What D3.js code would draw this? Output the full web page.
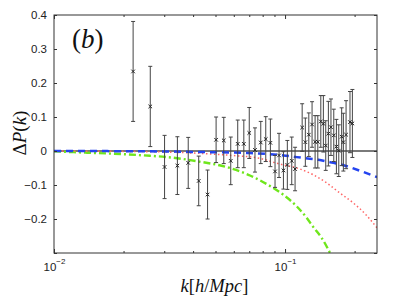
<!DOCTYPE html>
<html>
<head>
<meta charset="utf-8">
<script src="https://cdn.jsdelivr.net/npm/d3@7"></script>
<style>
  body { margin: 0; background: #fff; }
  svg { display: block; }
</style>
</head>
<body>
<div id="chart"></div>
<script>
// measured points: k, delta P, error
const pointK = [0.0220, 0.0261, 0.0301, 0.0342, 0.0381, 0.0423, 0.0462, 0.0503, 0.0543, 0.0582,
  0.0624, 0.0663, 0.0700, 0.0741, 0.0785, 0.0825, 0.0864, 0.0905, 0.0942, 0.0984,
  0.1023, 0.1069, 0.1105, 0.1186, 0.1224, 0.1267, 0.1309, 0.1349, 0.1386, 0.1428,
  0.1465, 0.1500, 0.1540, 0.1580, 0.1625, 0.1668, 0.1708, 0.1758, 0.1788, 0.1837,
  0.1910, 0.1956];
const pointVal = [0.234, 0.131, -0.047, -0.043, -0.035, -0.088, -0.128, 0.033, 0.031, -0.029,
  0.021, 0.021, 0.053, 0.003, 0.025, 0.035, 0.024, -0.060, -0.013, -0.057,
  -0.041, -0.029, -0.053, 0.069, 0.026, 0.048, 0.078, 0.027, 0.027, 0.087,
  0.080, 0.016, 0.051, 0.070, 0.046, 0.013, 0.001, 0.042, 0.026, 0.048,
  0.085, 0.081];
const pointErr = [0.147, 0.118, 0.093, 0.085, 0.075, 0.073, 0.072, 0.067, 0.068, 0.070,
  0.070, 0.070, 0.075, 0.065, 0.062, 0.066, 0.070, 0.047, 0.065, 0.055,
  0.072, 0.070, 0.064, 0.070, 0.071, 0.064, 0.067, 0.077, 0.077, 0.076,
  0.083, 0.073, 0.095, 0.083, 0.077, 0.080, 0.076, 0.085, 0.085, 0.100,
  0.090, 0.100];

// model curves
const blueK = [0.0100, 0.0260, 0.0429, 0.0705, 0.0984, 0.1124, 0.1394, 0.1566, 0.1730, 0.2148, 0.2500];
const blueVal = [0.000, -0.001, -0.003, -0.006, -0.013, -0.018, -0.026, -0.033, -0.039, -0.060, -0.077];
const redK = [0.0100, 0.0260, 0.0429, 0.0588, 0.0781, 0.0932, 0.1161, 0.1326, 0.1515, 0.1730, 0.1975, 0.2257, 0.2500];
const redVal = [0.000, -0.002, -0.007, -0.013, -0.022, -0.037, -0.053, -0.070, -0.094, -0.124, -0.153, -0.190, -0.226];
const greenK = [0.0100, 0.0139, 0.0195, 0.0245, 0.0320, 0.0415, 0.0578, 0.0705, 0.0890, 0.0984, 0.1124, 0.1242, 0.1326, 0.1442, 0.1566, 0.1700];
const greenVal = [-0.001, -0.005, -0.009, -0.013, -0.019, -0.030, -0.050, -0.072, -0.109, -0.129, -0.163, -0.197, -0.224, -0.256, -0.300, -0.350];

const yTicks = [-0.3, -0.2, -0.1, 0, 0.1, 0.2, 0.3, 0.4];
const yTickLabels = ["", "\u22120.2", "\u22120.1", "0", "0.1", "0.2", "0.3", "0.4"];
const xMajor = [0.01, 0.1];
const xMajorExp = ["\u22122", "\u22121"];
const xMinor = [0.02, 0.03, 0.04, 0.05, 0.06, 0.07, 0.08, 0.09, 0.2];

const W = 399, H = 300;
const mLeft = 54, mRight = 377, mTop = 15, mBottom = 253;

const x = d3.scaleLog().domain([0.01, 0.25]).range([mLeft, mRight]);
const y = d3.scaleLinear().domain([-0.3, 0.4]).range([mBottom, mTop]);

const svg = d3.select('#chart').append('svg')
  .attr('width', W).attr('height', H)
  .style('font-family', '"Liberation Sans", Arial, sans-serif');

svg.append('rect').attr('width', W).attr('height', H).attr('fill', '#fff');

svg.append('clipPath').attr('id', 'plotclip')
  .append('rect').attr('x', mLeft).attr('y', mTop)
  .attr('width', mRight - mLeft).attr('height', mBottom - mTop);

const plot = svg.append('g').attr('clip-path', 'url(#plotclip)');

// zero line
plot.append('line')
  .attr('x1', mLeft).attr('x2', mRight)
  .attr('y1', y(0)).attr('y2', y(0))
  .attr('stroke', '#7a7a7a').attr('stroke-width', 1.8);

// curves
const curve = (ks, vs) => d3.line()
  .x((d, i) => x(ks[i]))
  .y(d => y(d))
  .curve(d3.curveMonotoneX)(vs);

plot.append('path').attr('d', curve(greenK, greenVal))
  .attr('fill', 'none').attr('stroke', '#6fe61c').attr('stroke-width', 2.4)
  .attr('stroke-dasharray', '7,3,2,3');
plot.append('path').attr('d', curve(redK, redVal))
  .attr('fill', 'none').attr('stroke', '#ff6666').attr('stroke-width', 1.5)
  .attr('stroke-dasharray', '1.5,2.5');
plot.append('path').attr('d', curve(blueK, blueVal))
  .attr('fill', 'none').attr('stroke', '#2444f0').attr('stroke-width', 2.5)
  .attr('stroke-dasharray', '7,5');

// error bars
const pts = pointK.map((k, i) => ({k: k, v: pointVal[i], e: pointErr[i]}));
const eb = plot.selectAll('.eb').data(pts).enter().append('g').attr('class', 'eb');
eb.append('line')
  .attr('x1', d => x(d.k)).attr('x2', d => x(d.k))
  .attr('y1', d => y(d.v + d.e)).attr('y2', d => y(d.v - d.e))
  .attr('stroke', '#444').attr('stroke-width', 1);
[1, -1].forEach(s => {
  eb.append('line')
    .attr('x1', d => x(d.k) - 2).attr('x2', d => x(d.k) + 2)
    .attr('y1', d => y(d.v + s * d.e)).attr('y2', d => y(d.v + s * d.e))
    .attr('stroke', '#444').attr('stroke-width', 1);
});
eb.append('path')
  .attr('d', d => {
    const cx = x(d.k), cy = y(d.v), r = 1.8;
    return `M${cx - r},${cy - r}L${cx + r},${cy + r}M${cx - r},${cy + r}L${cx + r},${cy - r}`;
  })
  .attr('stroke', '#222').attr('stroke-width', 1);

// axes box
const axisColor = '#333';
svg.append('rect')
  .attr('x', mLeft).attr('y', mTop)
  .attr('width', mRight - mLeft).attr('height', mBottom - mTop)
  .attr('fill', 'none').attr('stroke', axisColor).attr('stroke-width', 1);

// ticks pointing inward
const yAxisL = d3.axisLeft(y).tickValues(yTicks).tickSize(-3).tickFormat((d, i) => yTickLabels[i]).tickPadding(7);
const yAxisR = d3.axisRight(y).tickValues(yTicks).tickSize(-3).tickFormat('');
const gl = svg.append('g').attr('transform', `translate(${mLeft},0)`).call(yAxisL);
svg.append('g').attr('transform', `translate(${mRight},0)`).call(yAxisR);

const xTopMajor = d3.axisTop(x).tickValues(xMajor).tickSize(-4).tickFormat('');
const xTopMinor = d3.axisTop(x).tickValues(xMinor).tickSize(-2).tickFormat('');
const xBotMajor = d3.axisBottom(x).tickValues(xMajor).tickSize(-4).tickFormat('');
const xBotMinor = d3.axisBottom(x).tickValues(xMinor).tickSize(-2).tickFormat('');
svg.append('g').attr('transform', `translate(0,${mTop})`).call(xTopMajor);
svg.append('g').attr('transform', `translate(0,${mTop})`).call(xTopMinor);
svg.append('g').attr('transform', `translate(0,${mBottom})`).call(xBotMajor);
svg.append('g').attr('transform', `translate(0,${mBottom})`).call(xBotMinor);

svg.selectAll('.domain').remove();
svg.selectAll('.tick line').attr('stroke', axisColor);
gl.selectAll('text').attr('font-size', 11.5).attr('fill', '#222')
  .style('font-family', '"Liberation Sans", Arial, sans-serif');

// x tick labels with exponents
xMajor.forEach((k, i) => {
  const t = svg.append('text')
    .attr('x', x(k) + 0.5).attr('y', 271)
    .attr('text-anchor', 'middle').attr('font-size', 11.5).attr('fill', '#222');
  t.append('tspan').text('10');
  t.append('tspan').attr('dy', -7).attr('font-size', 8).text(xMajorExp[i]);
});

// axis titles (LaTeX style)
const serif = '"Liberation Serif", "Times New Roman", serif';
const xl = svg.append('text')
  .attr('x', (mLeft + mRight) / 2 - 1).attr('y', 292)
  .attr('text-anchor', 'middle').attr('font-size', 18.5)
  .style('font-family', serif).attr('fill', '#111');
xl.append('tspan').attr('font-style', 'italic').text('k');
xl.append('tspan').text('[');
xl.append('tspan').attr('font-style', 'italic').text('h');
xl.append('tspan').text('/');
xl.append('tspan').attr('font-style', 'italic').text('Mpc');
xl.append('tspan').text(']');

const yl = svg.append('text')
  .attr('transform', `translate(26,${(mTop + mBottom) / 2 - 1}) rotate(-90)`)
  .attr('text-anchor', 'middle').attr('font-size', 19)
  .style('font-family', serif).attr('fill', '#111');
yl.append('tspan').text('\u0394');
yl.append('tspan').attr('font-style', 'italic').text('P');
yl.append('tspan').text('(');
yl.append('tspan').attr('font-style', 'italic').text('k');
yl.append('tspan').text(')');

// panel tag
const tag = svg.append('text')
  .attr('x', 72).attr('y', 48)
  .attr('font-size', 27).style('font-family', serif).attr('fill', '#111');
tag.append('tspan').text('(');
tag.append('tspan').attr('font-style', 'italic').text('b');
tag.append('tspan').text(')');
</script>
</body>
</html>
